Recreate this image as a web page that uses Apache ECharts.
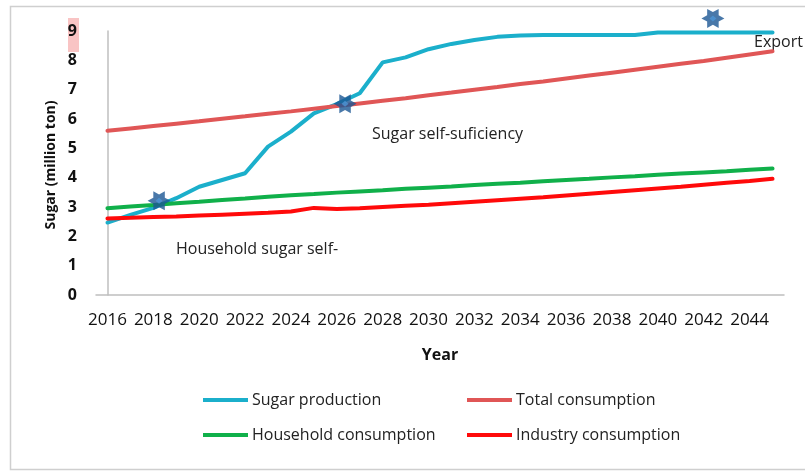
<!DOCTYPE html>
<html>
<head>
<meta charset="utf-8">
<script src="https://cdn.jsdelivr.net/npm/echarts@6/dist/echarts.min.js"></script>
<style>html,body{margin:0;padding:0;background:#fff}#c{width:805px;height:473px}</style>
</head>
<body>
<div id="c"></div>
<script>
var years = ['2016','2017','2018','2019','2020','2021','2022','2023','2024','2025','2026','2027','2028','2029','2030','2031','2032','2033','2034','2035','2036','2037','2038','2039','2040','2041','2042','2043','2044','2045'];
var sugarProduction = [2.47,2.73,2.97,3.30,3.69,3.92,4.15,5.06,5.57,6.19,6.51,6.88,7.93,8.10,8.38,8.56,8.69,8.80,8.85,8.86,8.86,8.86,8.86,8.86,8.95,8.95,8.95,8.95,8.95,8.95];
var totalConsumption = [5.60,5.68,5.76,5.84,5.92,6.01,6.09,6.18,6.26,6.35,6.44,6.53,6.62,6.71,6.81,6.90,7.00,7.09,7.19,7.28,7.38,7.48,7.58,7.68,7.78,7.88,7.98,8.09,8.20,8.31];
var householdConsumption = [2.96,3.02,3.07,3.13,3.18,3.24,3.29,3.35,3.40,3.44,3.49,3.53,3.57,3.62,3.66,3.70,3.75,3.79,3.83,3.88,3.92,3.96,4.01,4.05,4.10,4.14,4.18,4.22,4.27,4.31];
var industryConsumption = [2.61,2.63,2.66,2.68,2.71,2.74,2.77,2.80,2.85,2.97,2.93,2.96,3.00,3.04,3.08,3.13,3.18,3.23,3.28,3.33,3.39,3.45,3.51,3.57,3.63,3.69,3.76,3.83,3.89,3.96];
// star markers: [category index position, value]
var starPoints = [[2.25,3.21],[10.36,6.52],[26.4,9.43]];
var seriesNames = ['Sugar production','Total consumption','Household consumption','Industry consumption'];
var annotations = ['Sugar self-suficiency','Household sugar self-','Export'];
var yAxisTitle = 'Sugar (million ton)';
var xAxisTitle = 'Year';

var FONT = '"Open Sans", "Liberation Sans", sans-serif';
var colors = ['#1BAFCB','#E05656','#10B04A','#FF0A0A'];
var starPath = 'path://M-10,0 L-5,-2.89 L-5,-8.66 L0,-5.77 L5,-8.66 L5,-2.89 L10,0 L5,2.89 L5,8.66 L0,5.77 L-5,8.66 L-5,2.89 Z';

function lineSeries(i, data){
  return {name: seriesNames[i], type:'line', data:data, symbol:'none', smooth:false,
    lineStyle:{color:colors[i], width:4, cap:'round'}, itemStyle:{color:colors[i]}, z:2+i};
}
function legendAt(i, left, top){
  return {data:[seriesNames[i]], left:left, top:top, padding:0, icon:'rect', itemWidth:45, itemHeight:4,
    itemStyle:{color:colors[i]}, selectedMode:false,
    textStyle:{fontFamily:FONT, fontSize:16, color:'#222', padding:[0,0,0,-1]}};
}

var chart = echarts.init(document.getElementById('c'), null, {renderer:'canvas'});
chart.setOption({
  backgroundColor:'#fff',
  animation:false,
  grid:{left:96, right:21, top:31, bottom:178, containLabel:false},
  xAxis:[{
    type:'category', data:years, boundaryGap:true,
    axisLine:{lineStyle:{color:'#BFBFBF', width:1.5}},
    axisTick:{show:false},
    axisLabel:{interval:1, margin:17, fontFamily:FONT, fontSize:17, color:'#111'},
    name:xAxisTitle, nameLocation:'middle', nameGap:52,
    nameTextStyle:{fontFamily:FONT, fontSize:16, fontWeight:'bold', color:'#111'}
  },{
    type:'value', min:-0.5, max:29.5, show:false
  }],
  yAxis:{
    type:'value', min:0, max:9, interval:1,
    splitLine:{show:false},
    axisLine:{show:true, lineStyle:{color:'#BFBFBF', width:1.5}},
    axisTick:{show:false},
    axisLabel:{margin:19, fontFamily:FONT, fontSize:16, fontWeight:'bold', color:'#111'}
  },
  legend:[legendAt(0,203,392), legendAt(1,467,392), legendAt(2,203,427), legendAt(3,467,427)],
  series:[
    lineSeries(0, sugarProduction),
    lineSeries(1, totalConsumption),
    lineSeries(2, householdConsumption),
    lineSeries(3, industryConsumption),
    {type:'scatter', xAxisIndex:1, data:starPoints, symbol:starPath, symbolSize:[23,19], clip:false, silent:true,
      itemStyle:{color:'#1B5694'}, z:10},
    {type:'scatter', xAxisIndex:1, data:starPoints, symbol:'diamond', symbolSize:[7,6], clip:false, silent:true,
      itemStyle:{color:'#4C95D6'}, z:11}
  ],
  graphic:[
    {type:'rect', shape:{x:10.5, y:6.5, width:820, height:463}, style:{fill:'none', stroke:'#CFCFCF', lineWidth:1.5}, silent:true, z:-1},
    {type:'rect', shape:{x:68, y:18, width:11, height:34}, style:{fill:'#F9C4C4'}, silent:true, z:-1},
    {type:'text', x:51.5, y:165, rotation:Math.PI/2, style:{text:yAxisTitle, align:'center', verticalAlign:'middle', font:'bold 14px '+FONT, fill:'#111'}},
    {type:'text', style:{text:annotations[0], x:372, y:134, verticalAlign:'middle', font:'16px '+FONT, fill:'#222'}},
    {type:'text', style:{text:annotations[1], x:176, y:249, verticalAlign:'middle', font:'16px '+FONT, fill:'#222'}},
    {type:'text', style:{text:annotations[2], x:754, y:42, verticalAlign:'middle', font:'16px '+FONT, fill:'#222'}}
  ]
});
</script>
</body>
</html>
